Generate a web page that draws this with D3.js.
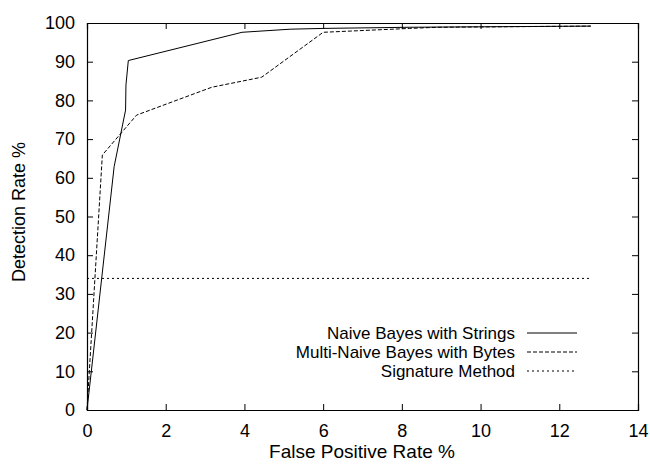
<!DOCTYPE html>
<html>
<head>
<meta charset="utf-8">
<script src="https://cdn.jsdelivr.net/npm/d3@7"></script>
<style>
  body { margin: 0; background: #fff; }
  text { font-family: "Liberation Sans", Arial, sans-serif; fill: #000; }
</style>
</head>
<body>
<div id="chart"></div>
<script>
// data
const stringsFP  = [0, 0.69, 0.98, 0.99, 1.05, 3.94, 5.16, 6.0, 8.2, 12.8];
const stringsDR  = [0, 62.9, 77.5, 84.0, 90.3, 97.6, 98.4, 98.6, 98.9, 99.2];
const bytesFP    = [0, 0.39, 1.26, 3.17, 4.44, 6.0, 8.2, 8.9, 12.8];
const bytesDR    = [0, 65.9, 76.2, 83.4, 86.0, 97.6, 98.6, 98.9, 99.2];
const sigFP      = [0, 12.8];
const sigDR      = [34, 34];
const xTicks = [0, 2, 4, 6, 8, 10, 12, 14];
const yTicks = [0, 10, 20, 30, 40, 50, 60, 70, 80, 90, 100];
const seriesNames = ["Naive Bayes with Strings", "Multi-Naive Bayes with Bytes", "Signature Method"];
const dashes = [null, "4,2", "2,3"];

const width = 650, height = 469;
const margin = { left: 87, right: 12, top: 23, bottom: 59 };
const iw = width - margin.left - margin.right;
const ih = height - margin.top - margin.bottom;

const svg = d3.select("#chart").append("svg")
  .attr("width", width).attr("height", height);
const g = svg.append("g").attr("transform", `translate(${margin.left},${margin.top})`);

const x = d3.scaleLinear().domain([0, 14]).range([0, iw]);
const y = d3.scaleLinear().domain([0, 100]).range([ih, 0]);

// axes with inward ticks, mirrored on top/right
const tl = 6;
g.append("g").attr("transform", `translate(0,${ih})`)
  .call(d3.axisBottom(x).tickValues(xTicks).tickSize(-tl).tickPadding(14))
  .call(a => a.selectAll("text").style("font-size", "18px"));
g.append("g")
  .call(d3.axisLeft(y).tickValues(yTicks).tickSize(-tl).tickPadding(12))
  .call(a => a.selectAll("text").style("font-size", "18px"));
g.append("g")
  .call(d3.axisTop(x).tickValues(xTicks).tickSize(-tl).tickFormat(""));
g.append("g").attr("transform", `translate(${iw},0)`)
  .call(d3.axisRight(y).tickValues(yTicks).tickSize(-tl).tickFormat(""));
g.selectAll(".domain").attr("stroke", "#000").attr("stroke-width", 1.2);
g.selectAll(".tick line").attr("stroke", "#000");

// axis titles
svg.append("text")
  .attr("x", 362).attr("y", 458)
  .attr("text-anchor", "middle").style("font-size", "19px")
  .text("False Positive Rate %");
svg.append("text")
  .attr("transform", "translate(25,212) rotate(-90)")
  .attr("text-anchor", "middle").style("font-size", "18px")
  .text("Detection Rate %");

// series lines
const series = [
  d3.zip(stringsFP, stringsDR),
  d3.zip(bytesFP, bytesDR),
  d3.zip(sigFP, sigDR)
];
const line = d3.line().x(d => x(d[0])).y(d => y(d[1]));
series.forEach((s, i) => {
  g.append("path")
    .datum(s)
    .attr("fill", "none")
    .attr("stroke", "#000")
    .attr("stroke-width", 1)
    .attr("stroke-dasharray", dashes[i])
    .attr("d", line);
});

// legend
const lg = svg.append("g");
seriesNames.forEach((name, i) => {
  const yy = 333 + i * 19;
  lg.append("text")
    .attr("x", 515).attr("y", yy).attr("dy", "0.35em")
    .attr("text-anchor", "end").style("font-size", "17px")
    .text(name);
  lg.append("line")
    .attr("x1", 527).attr("x2", 577).attr("y1", yy).attr("y2", yy)
    .attr("stroke", "#000").attr("stroke-width", 1)
    .attr("stroke-dasharray", dashes[i]);
});
</script>
</body>
</html>
